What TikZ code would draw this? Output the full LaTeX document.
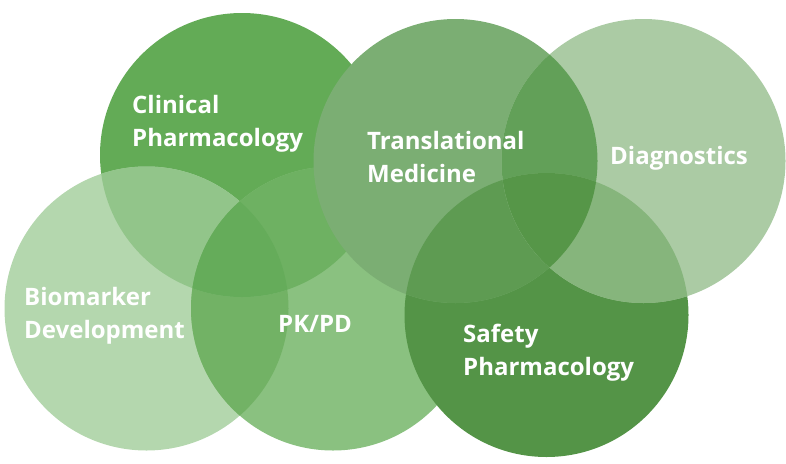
\documentclass[tikz,border=0pt]{standalone}
\usepackage{fontspec}
\setmainfont{Open Sans}
\usepackage{tikz}
\definecolor{clin}{HTML}{63AB56}
\definecolor{trans}{HTML}{7BAE73}
\definecolor{diag}{HTML}{ABCBA4}
\definecolor{bio}{HTML}{B4D7AE}
\definecolor{pkpd}{HTML}{8AC180}
\definecolor{safe}{HTML}{549447}
\definecolor{clinbio}{HTML}{92C58A}
\definecolor{clinpk}{HTML}{6EB162}
\definecolor{biopk}{HTML}{72B265}
\definecolor{clinbiopk}{HTML}{65AC5A}
\definecolor{transsafe}{HTML}{5E9B52}
\definecolor{transdiag}{HTML}{62A058}
\definecolor{diagsafe}{HTML}{86B57C}
\definecolor{alltri}{HTML}{569648}
\newcommand{\rad}{142pt}

\begin{document}
\begin{tikzpicture}[x=1pt, y=-1pt,
  label/.style={text=white, font=\fontsize{24}{33}\selectfont\bfseries,
    align=left, anchor=base west, inner sep=0pt}]
  \useasboundingbox (0,0) rectangle (786,463);

  \coordinate (C) at (242,155);
  \coordinate (T) at (455.5,161);
  \coordinate (D) at (643.5,161);
  \coordinate (B) at (146.5,308.5);
  \coordinate (P) at (333,308.5);
  \coordinate (S) at (546.5,315);

  % Cerchi di sinistra
  \fill[clin] (C) circle[radius=\rad];
  \fill[bio]  (B) circle[radius=\rad];
  \fill[pkpd] (P) circle[radius=\rad];

  % Intersezioni di sinistra
  \begin{scope}
    \clip (B) circle[radius=\rad];
    \fill[biopk] (P) circle[radius=\rad];
  \end{scope}
  \begin{scope}
    \clip (C) circle[radius=\rad];
    \fill[clinbio] (B) circle[radius=\rad];
    \fill[clinpk]  (P) circle[radius=\rad];
    \clip (B) circle[radius=\rad];
    \fill[clinbiopk] (P) circle[radius=\rad];
  \end{scope}

  % Cerchi di destra
  \fill[safe]  (S) circle[radius=\rad];
  \fill[trans] (T) circle[radius=\rad];
  \begin{scope}
    \clip (T) circle[radius=\rad];
    \fill[transsafe] (S) circle[radius=\rad];
  \end{scope}
  \fill[diag] (D) circle[radius=\rad];
  \begin{scope}
    \clip (D) circle[radius=\rad];
    \fill[transdiag] (T) circle[radius=\rad];
    \fill[diagsafe]  (S) circle[radius=\rad];
    \clip (T) circle[radius=\rad];
    \fill[alltri] (S) circle[radius=\rad];
  \end{scope}

  % Etichette (base = ultima riga)
  \node[label] (clinL)  at (132,146) {Clinical\\Pharmacology};
  \node[label] (transL) at (367,182) {Translational\\Medicine};
  \node[label] (diagL)  at (610,164) {Diagnostics};
  \node[label] (bioL)   at (24,338)  {Biomarker\\Development};
  \node[label] (pkL)    at (278,332) {PK/PD};
  \node[label] (safeL)  at (463,375) {Safety\\Pharmacology};
\end{tikzpicture}
\end{document}
